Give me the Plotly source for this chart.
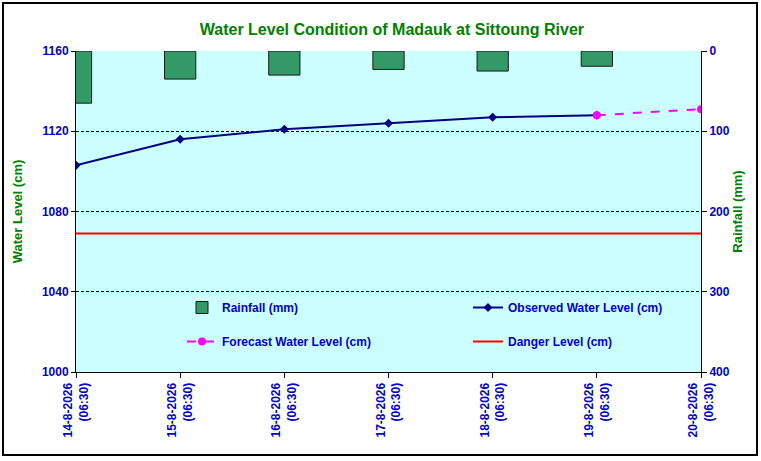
import plotly.graph_objects as go

# data
dates = ["14-8-2026", "15-8-2026", "16-8-2026", "17-8-2026",
         "18-8-2026", "19-8-2026", "20-8-2026"]
tick_text = [d + "<br>(06:30)" for d in dates]
rainfall_mm = [65, 35, 30, 23, 25, 19]
observed_cm = [1103, 1116, 1121, 1124, 1127, 1128]
forecast_cm = [1128, 1131]
danger_cm = 1069

pos = list(range(len(dates)))

blue = "#0000CC"
green = "#008000"
bold_blue = dict(family="Arial", size=12, color=blue, weight="bold")
bold_green = dict(family="Arial", size=13, color=green, weight="bold")

fig = go.Figure()

fig.add_trace(go.Bar(
    x=pos[:len(rainfall_mm)], y=rainfall_mm, yaxis="y2", width=0.3,
    name="Rainfall (mm)", marker=dict(color="#339966", line=dict(color="#1a1a1a", width=1)),
    legend="legend", legendgroup="rain",
))
fig.add_trace(go.Scatter(
    x=pos[:len(observed_cm)], y=observed_cm, mode="lines+markers",
    name="Observed Water Level (cm)",
    line=dict(color="#000080", width=2),
    marker=dict(symbol="diamond", size=7, color="#000080"),
    legend="legend2", legendgroup="obs",
))
fig.add_trace(go.Scatter(
    x=pos[len(observed_cm) - 1:], y=forecast_cm, mode="lines+markers",
    name="Forecast Water Level (cm)",
    line=dict(color="#FF00FF", width=2, dash="dash"),
    marker=dict(symbol="circle", size=8, color="#FF00FF"),
    legend="legend", legendgroup="fc",
))
fig.add_trace(go.Scatter(
    x=[pos[0], pos[-1]], y=[danger_cm, danger_cm], mode="lines",
    name="Danger Level (cm)", line=dict(color="#FF0000", width=2),
    legend="legend2", legendgroup="danger",
))

legend_style = dict(
    bgcolor="rgba(0,0,0,0)", font=bold_blue,
    tracegroupgap=15, itemwidth=30, yanchor="top",
)

fig.update_layout(
    width=761, height=461,
    margin=dict(l=76, r=60, t=51, b=89),
    paper_bgcolor="white", plot_bgcolor="#CCFFFF",
    font=dict(family="Arial", size=12, color=blue),
    title=dict(text="Water Level Condition of Madauk at Sittoung River",
               x=0.515, xanchor="center", y=0.937, yanchor="middle",
               font=dict(family="Arial", size=16, color=green, weight="bold")),
    xaxis=dict(
        range=[0, 6], tickvals=pos, ticktext=tick_text,
        tickangle=-90, ticks="outside", ticklen=5, tickcolor="black",
        showline=True, linecolor="black", linewidth=1, showgrid=False, zeroline=False,
        tickfont=bold_blue, automargin=False,
    ),
    yaxis=dict(
        range=[1000, 1160], dtick=40, ticks="outside", ticklen=4, tickcolor="black",
        showline=True, linecolor="black", linewidth=1,
        showgrid=True, gridcolor="black", griddash="3px,2px", gridwidth=1, zeroline=False,
        tickfont=bold_blue, automargin=False,
        title=dict(text="Water Level (cm)", font=bold_green, standoff=16),
    ),
    yaxis2=dict(
        range=[400, 0], dtick=100, overlaying="y", side="right",
        ticks="outside", ticklen=5, tickcolor="black",
        showline=True, linecolor="black", linewidth=1, showgrid=False, zeroline=False,
        tickfont=bold_blue, automargin=False,
        title=dict(text="Rainfall (mm)", font=bold_green, standoff=4),
    ),
    legend=dict(x=(182 - 76) / 625, y=(372 - 293) / 321, **legend_style),
    legend2=dict(x=(468 - 76) / 625, y=(372 - 293) / 321, **legend_style),
    showlegend=True,
    shapes=[dict(type="rect", xref="paper", yref="paper",
                 x0=(3 - 76) / 625, x1=(757 - 76) / 625,
                 y0=(372 - 455) / 321, y1=(372 - 3) / 321,
                 line=dict(color="black", width=2), layer="below")],
)

fig.write_html("out.html", config={"displayModeBar": False},
               post_script="document.body.style.margin='0px';")
